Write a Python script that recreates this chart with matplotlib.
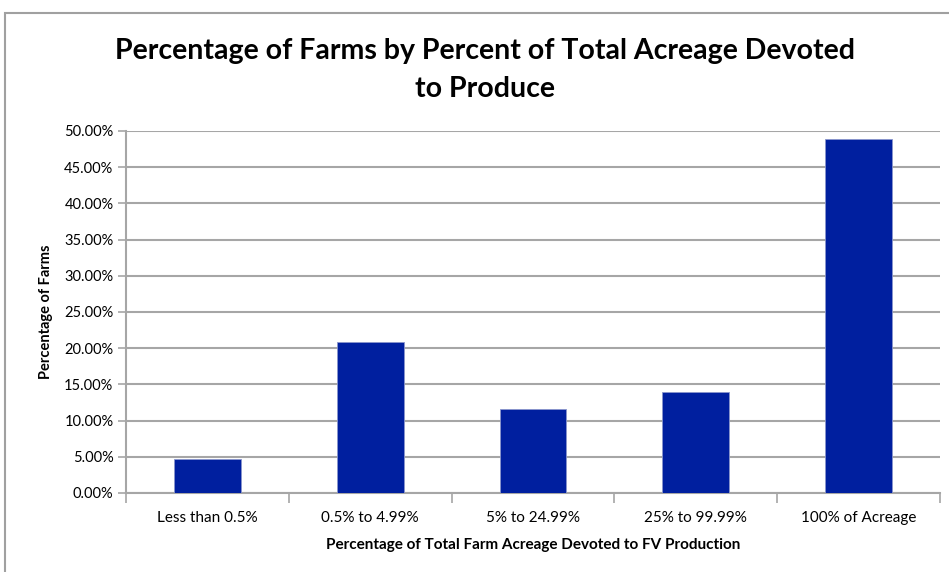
import numpy as np
import matplotlib
matplotlib.use('Agg')
import matplotlib.pyplot as plt
from matplotlib.patches import Rectangle
from matplotlib.ticker import FuncFormatter, MultipleLocator

categories = ['Less than 0.5%', '0.5% to 4.99%', '5% to 24.99%', '25% to 99.99%', '100% of Acreage']
pct_farms = [4.65, 20.9, 11.55, 13.95, 48.85]

plt.rcParams['font.family'] = ['Lato', 'DejaVu Sans']
grid_grey = '#a6a6a6'

fig = plt.figure(figsize=(9.49, 5.72), dpi=100)
ax = fig.add_axes([126 / 949, 1 - 493 / 572, 814 / 949, 362 / 572])

# outer chart frame
fig.patches.append(Rectangle((5 / 949, -0.1), 1.1, 1 - 13 / 572 + 0.1,
                             transform=fig.transFigure, fill=False,
                             edgecolor='#a0a0a0', linewidth=1.5))

x = np.arange(len(categories))
ax.bar(x, pct_farms, width=0.41, color='#001f9f', edgecolor='#8a96cc',
       linewidth=0.6, zorder=3)

ax.set_xlim(-0.5, len(categories) - 0.5)
ax.set_ylim(0, 50)
ax.yaxis.set_major_locator(MultipleLocator(5))
ax.yaxis.set_major_formatter(FuncFormatter(lambda v, _: f'{v:.2f}%'))
ax.grid(axis='y', color=grid_grey, linewidth=1.5, zorder=0)
ax.set_axisbelow(True)

ax.set_xticks(x)
ax.set_xticklabels(categories)
ax.set_xticks(np.arange(-0.5, len(categories)), minor=True)
ax.tick_params(axis='x', which='major', length=0, pad=13, labelsize=11)
ax.tick_params(axis='x', which='minor', length=7, color=grid_grey, width=1.2)
ax.tick_params(axis='y', length=6, color=grid_grey, width=1.2, labelsize=10.5, pad=3)

for side in ['top', 'right']:
    ax.spines[side].set_visible(False)
for side in ['left', 'bottom']:
    ax.spines[side].set_color(grid_grey)
    ax.spines[side].set_linewidth(1.5)

ax.set_ylabel('Percentage of Farms', fontsize=10.5, fontweight='bold', labelpad=8)
ax.set_xlabel('Percentage of Total Farm Acreage Devoted to FV Production',
              fontsize=11, fontweight='bold', labelpad=9)

fig.text(485 / 949, 1 - 70 / 572,
         'Percentage of Farms by Percent of Total Acreage Devoted\nto Produce',
         ha='center', va='center', fontsize=20.5, fontweight='bold',
         linespacing=1.6)

fig.savefig('out.png', dpi=100)
